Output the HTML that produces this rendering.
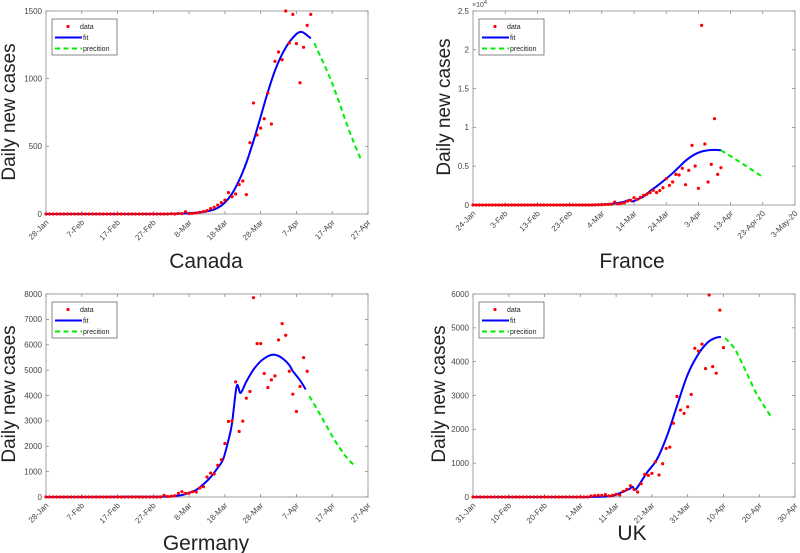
<!DOCTYPE html>
<html><head><meta charset="utf-8"><style>
html,body{margin:0;padding:0;background:#fff}
svg{display:block;font-family:"Liberation Sans",sans-serif}
</style></head><body>
<svg id="fig" width="800" height="553" viewBox="0 0 800 553" xmlns="http://www.w3.org/2000/svg"></svg>
<script>
// ---- Canada ----
const canadaTicks=["28-Jan","7-Feb","17-Feb","27-Feb","8-Mar","18-Mar","28-Mar","7-Apr","17-Apr","27-Apr"];
const canadaData=[0,0,0,0,0,0,0,0,0,0,0,0,0,0,0,0,0,0,0,0,0,0,0,0,0,0,0,0,0,0,0,0,0,0,0,2,0,4,3,17,3,5,8,12,18,25,40,50,66,84,103,158,128,148,217,244,143,527,820,584,635,704,894,665,1128,1197,1140,1500,1264,1475,1259,970,1232,1394,1475];
const canadaFitDays=[0,30,36,40,44,46,48,50,52,54,56,58,60,62,64,66,68,70,71,72,74];
const canadaFit=[0,0,2,5,15,25,45,85,150,250,380,540,720,900,1060,1180,1270,1330,1345,1340,1298];
const canadaPredDays=[75,78,80,82,84,86,88];
const canadaPred=[1262,1090,965,820,670,530,404];
// ---- France ----
const franceTicks=["24-Jan","3-Feb","13-Feb","23-Feb","4-Mar","14-Mar","24-Mar","3-Apr","13-Apr","23-Apr-20","3-May-20"];
const franceData=[0,0,0,0,0,0,0,0,0,0,0,0,0,0,0,0,0,0,0,0,0,0,0,0,0,0,0,0,0,0,0,0,0,0,0,0,0,0,20,30,40,60,80,100,380,130,190,280,500,600,945,730,990,1245,1400,1600,1890,1590,1850,2230,3390,2535,2960,3950,3870,4725,2620,4470,7690,5025,2150,23150,7860,2960,5240,11125,3950,4810];
const franceFitDays=[0,30,38,42,45,47,48.5,49.5,51,53,55,57,59.5,62,64,66,68.5,71,73,75,77];
const franceFit=[0,0,30,120,260,420,640,450,700,1100,1800,2400,3220,4100,4900,5700,6440,6900,7050,7100,7050];
const francePredDays=[77,80,83,86,90];
const francePred=[7050,6300,5500,4700,3600];
// ---- Germany ----
const germanyTicks=["28-Jan","7-Feb","17-Feb","27-Feb","8-Mar","18-Mar","28-Mar","7-Apr","17-Apr","27-Apr"];
const germanyData=[0,0,0,0,0,0,0,0,0,0,0,0,0,0,0,0,0,0,0,0,0,0,0,0,0,0,0,0,0,0,0,0,0,65,20,30,50,144,210,144,160,210,196,354,406,787,944,905,1245,1470,2110,2977,3003,4537,2583,2990,3895,4157,7855,6046,6046,4866,4315,4616,4774,6190,6833,6374,4957,4052,3370,4354,5495,4957];
const germanyFitDays=[0,30,35,38,40,42,44,46,48,49.5,51,52,53.3,54.4,56,58,60,62,63.5,65,66.5,68,69,71,72.6];
const germanyFit=[0,10,25,80,160,280,500,780,1150,1480,2250,2900,4370,4100,4550,5020,5350,5550,5610,5560,5420,5200,4957,4600,4236];
const germanyPredDays=[73.6,76,78,80,82,84,86.3];
const germanyPred=[3975,3400,2900,2400,1950,1560,1220];
// ---- UK ----
const ukTicks=["31-Jan","10-Feb","20-Feb","1-Mar","11-Mar","21-Mar","31-Mar","10-Apr","20-Apr","30-Apr"];
const ukData=[0,0,0,0,0,0,0,0,0,0,0,0,0,0,0,0,0,0,0,0,0,0,0,0,0,0,0,0,0,0,0,0,0,30,40,50,45,70,30,50,80,60,167,226,334,226,148,393,669,639,700,1043,650,983,1436,1475,2180,2970,2570,2470,2665,3030,4395,4315,4520,3795,5970,3855,3660,5525,4415];
const ukFitDays=[0,30,38,40.2,43.5,44.6,45.5,48.6,51.4,54.2,57,59.8,62.6,65.4,67.7,69.3];
const ukFit=[0,0,20,80,226,305,226,718,1111,1800,2685,3570,4160,4550,4700,4730];
const ukPredDays=[70.5,73,75,77,79,81,83.2];
const ukPred=[4700,4400,4000,3550,3100,2750,2390];

const NS="http://www.w3.org/2000/svg";
const svg=document.getElementById('fig');
function mk(tag,attrs,parent){const e=document.createElementNS(NS,tag);for(const k in attrs)e.setAttribute(k,attrs[k]);(parent||svg).appendChild(e);return e;}
function smooth(pts){
  let d='M'+pts[0][0].toFixed(1)+','+pts[0][1].toFixed(1);
  for(let i=0;i<pts.length-1;i++){
    const p0=pts[Math.max(0,i-1)],p1=pts[i],p2=pts[i+1],p3=pts[Math.min(pts.length-1,i+2)];
    const c1=[p1[0]+(p2[0]-p0[0])/6,p1[1]+(p2[1]-p0[1])/6];
    const c2=[p2[0]-(p3[0]-p1[0])/6,p2[1]-(p3[1]-p1[1])/6];
    d+=` C${c1[0].toFixed(1)},${c1[1].toFixed(1)} ${c2[0].toFixed(1)},${c2[1].toFixed(1)} ${p2[0].toFixed(1)},${p2[1].toFixed(1)}`;
  }
  return d;
}

function panel(p){
  const g=mk('g',{});
  
  
  const xs=d=>p.x0+(p.x1-p.x0)*d/p.days;
  const ys=v=>p.y0-(p.y0-p.y1)*v/p.ymax;
  const box=mk('rect',{x:p.x0,y:p.y1,width:p.x1-p.x0,height:p.y0-p.y1,fill:'#fff',stroke:'#8a8a8a','stroke-width':0.8},g);
  
  
  const step=p.days/(p.ticks.length-1);
  p.ticks.forEach((t,i)=>{
    const x=xs(i*step);
    mk('line',{x1:x,x2:x,y1:p.y0,y2:p.y0-3,stroke:'#8a8a8a','stroke-width':0.8},g);
    mk('line',{x1:x,x2:x,y1:p.y1,y2:p.y1+3,stroke:'#8a8a8a','stroke-width':0.8},g);
    const tx=mk('text',{x:x+3,y:p.y0+9,'font-size':8,fill:'#444','text-anchor':'end',transform:`rotate(-45 ${x+3} ${p.y0+9})`},g);
    tx.textContent=t;
    
    
  });
  p.yticks.forEach((v,i)=>{
    const y=ys(v);
    mk('line',{x1:p.x0,x2:p.x0+3,y1:y,y2:y,stroke:'#8a8a8a','stroke-width':0.8},g);
    mk('line',{x1:p.x1,x2:p.x1-3,y1:y,y2:y,stroke:'#8a8a8a','stroke-width':0.8},g);
    const ty=mk('text',{x:p.x0-4,y:y+2.8,'font-size':8,fill:'#444','text-anchor':'end'},g);
    ty.textContent=p.ylabels[i];
    
    
  });
  if(p.exp){
    const e=mk('text',{x:p.x0-1,y:p.y1-4,'font-size':7,fill:'#444'},g);
    e.innerHTML='×10<tspan dy="-3" font-size="5.5">4</tspan>';
    
    
  }
  const fpts=p.fitDays.map((d,i)=>[xs(d),ys(p.fit[i])]);
  const fl=mk('path',{d:smooth(fpts),fill:'none',stroke:'#0000ff','stroke-width':2,'stroke-linejoin':'round'},g);
  
  
  const ppts=p.predDays.map((d,i)=>[xs(d),ys(p.pred[i])]);
  const pl=mk('path',{d:smooth(ppts),fill:'none',stroke:'#00ee00','stroke-width':2,'stroke-dasharray':'5 3.5'},g);
  
  
  p.data.forEach((v,i)=>{
    const c=mk('circle',{cx:xs(i),cy:ys(v),r:1.6,fill:'#ff0000'},g);
    
    
  });
  const lx=p.x0+6,ly=p.y1+8;
  const lg=mk('g',{},g);
  
  
  mk('rect',{x:lx,y:ly,width:65,height:36,fill:'#fff',stroke:'#555','stroke-width':0.7},lg);
  mk('circle',{cx:lx+16,cy:ly+7.5,r:1.6,fill:'#ff0000'},lg);
  mk('line',{x1:lx+3,x2:lx+30,y1:ly+18.5,y2:ly+18.5,stroke:'#0000ff','stroke-width':2},lg);
  mk('line',{x1:lx+3,x2:lx+30,y1:ly+29.5,y2:ly+29.5,stroke:'#00ee00','stroke-width':2,'stroke-dasharray':'5 3.5'},lg);
  [['data',ly+10,lx+28],['fit',ly+21,lx+31],['precition',ly+32,lx+31]].forEach(a=>{
    const t=mk('text',{x:a[2],y:a[1],'font-size':7,fill:'#222'},lg);
    t.textContent=a[0];
    
    
  });
  const yl=mk('text',{x:p.ylx,y:p.yly,'font-size':19,fill:'#222','text-anchor':'middle',transform:`rotate(-90 ${p.ylx} ${p.yly})`},g);
  yl.textContent='Daily new cases';
  
  
  const tl=mk('text',{x:p.tx,y:p.ty,'font-size':21,fill:'#222','text-anchor':'middle'},g);
  tl.textContent=p.title;
  
  
}

panel({name:'canada',title:'Canada',x0:46,x1:368,y0:214,y1:11,days:90,ymax:1500,ticks:canadaTicks,yticks:[0,500,1000,1500],ylabels:['0','500','1000','1500'],data:canadaData,fitDays:canadaFitDays,fit:canadaFit,predDays:canadaPredDays,pred:canadaPred,ylx:15,yly:112,tx:206,ty:268});
panel({name:'france',title:'France',x0:473,x1:795,y0:205,y1:11,days:100,ymax:25000,ticks:franceTicks,yticks:[0,5000,10000,15000,20000,25000],ylabels:['0','0.5','1','1.5','2','2.5'],exp:true,data:franceData,fitDays:franceFitDays,fit:franceFit,predDays:francePredDays,pred:francePred,ylx:450,yly:107,tx:632,ty:268});
panel({name:'germany',title:'Germany',x0:46,x1:368,y0:497,y1:294,days:90,ymax:8000,ticks:germanyTicks,yticks:[0,1000,2000,3000,4000,5000,6000,7000,8000],ylabels:['0','1000','2000','3000','4000','5000','6000','7000','8000'],data:germanyData,fitDays:germanyFitDays,fit:germanyFit,predDays:germanyPredDays,pred:germanyPred,ylx:15,yly:394,tx:206,ty:550});
panel({name:'uk',title:'UK',x0:473,x1:795,y0:497,y1:294,days:90,ymax:6000,ticks:ukTicks,yticks:[0,1000,2000,3000,4000,5000,6000],ylabels:['0','1000','2000','3000','4000','5000','6000'],data:ukData,fitDays:ukFitDays,fit:ukFit,predDays:ukPredDays,pred:ukPred,ylx:445,yly:394,tx:632,ty:540});
</script>
</body></html>
